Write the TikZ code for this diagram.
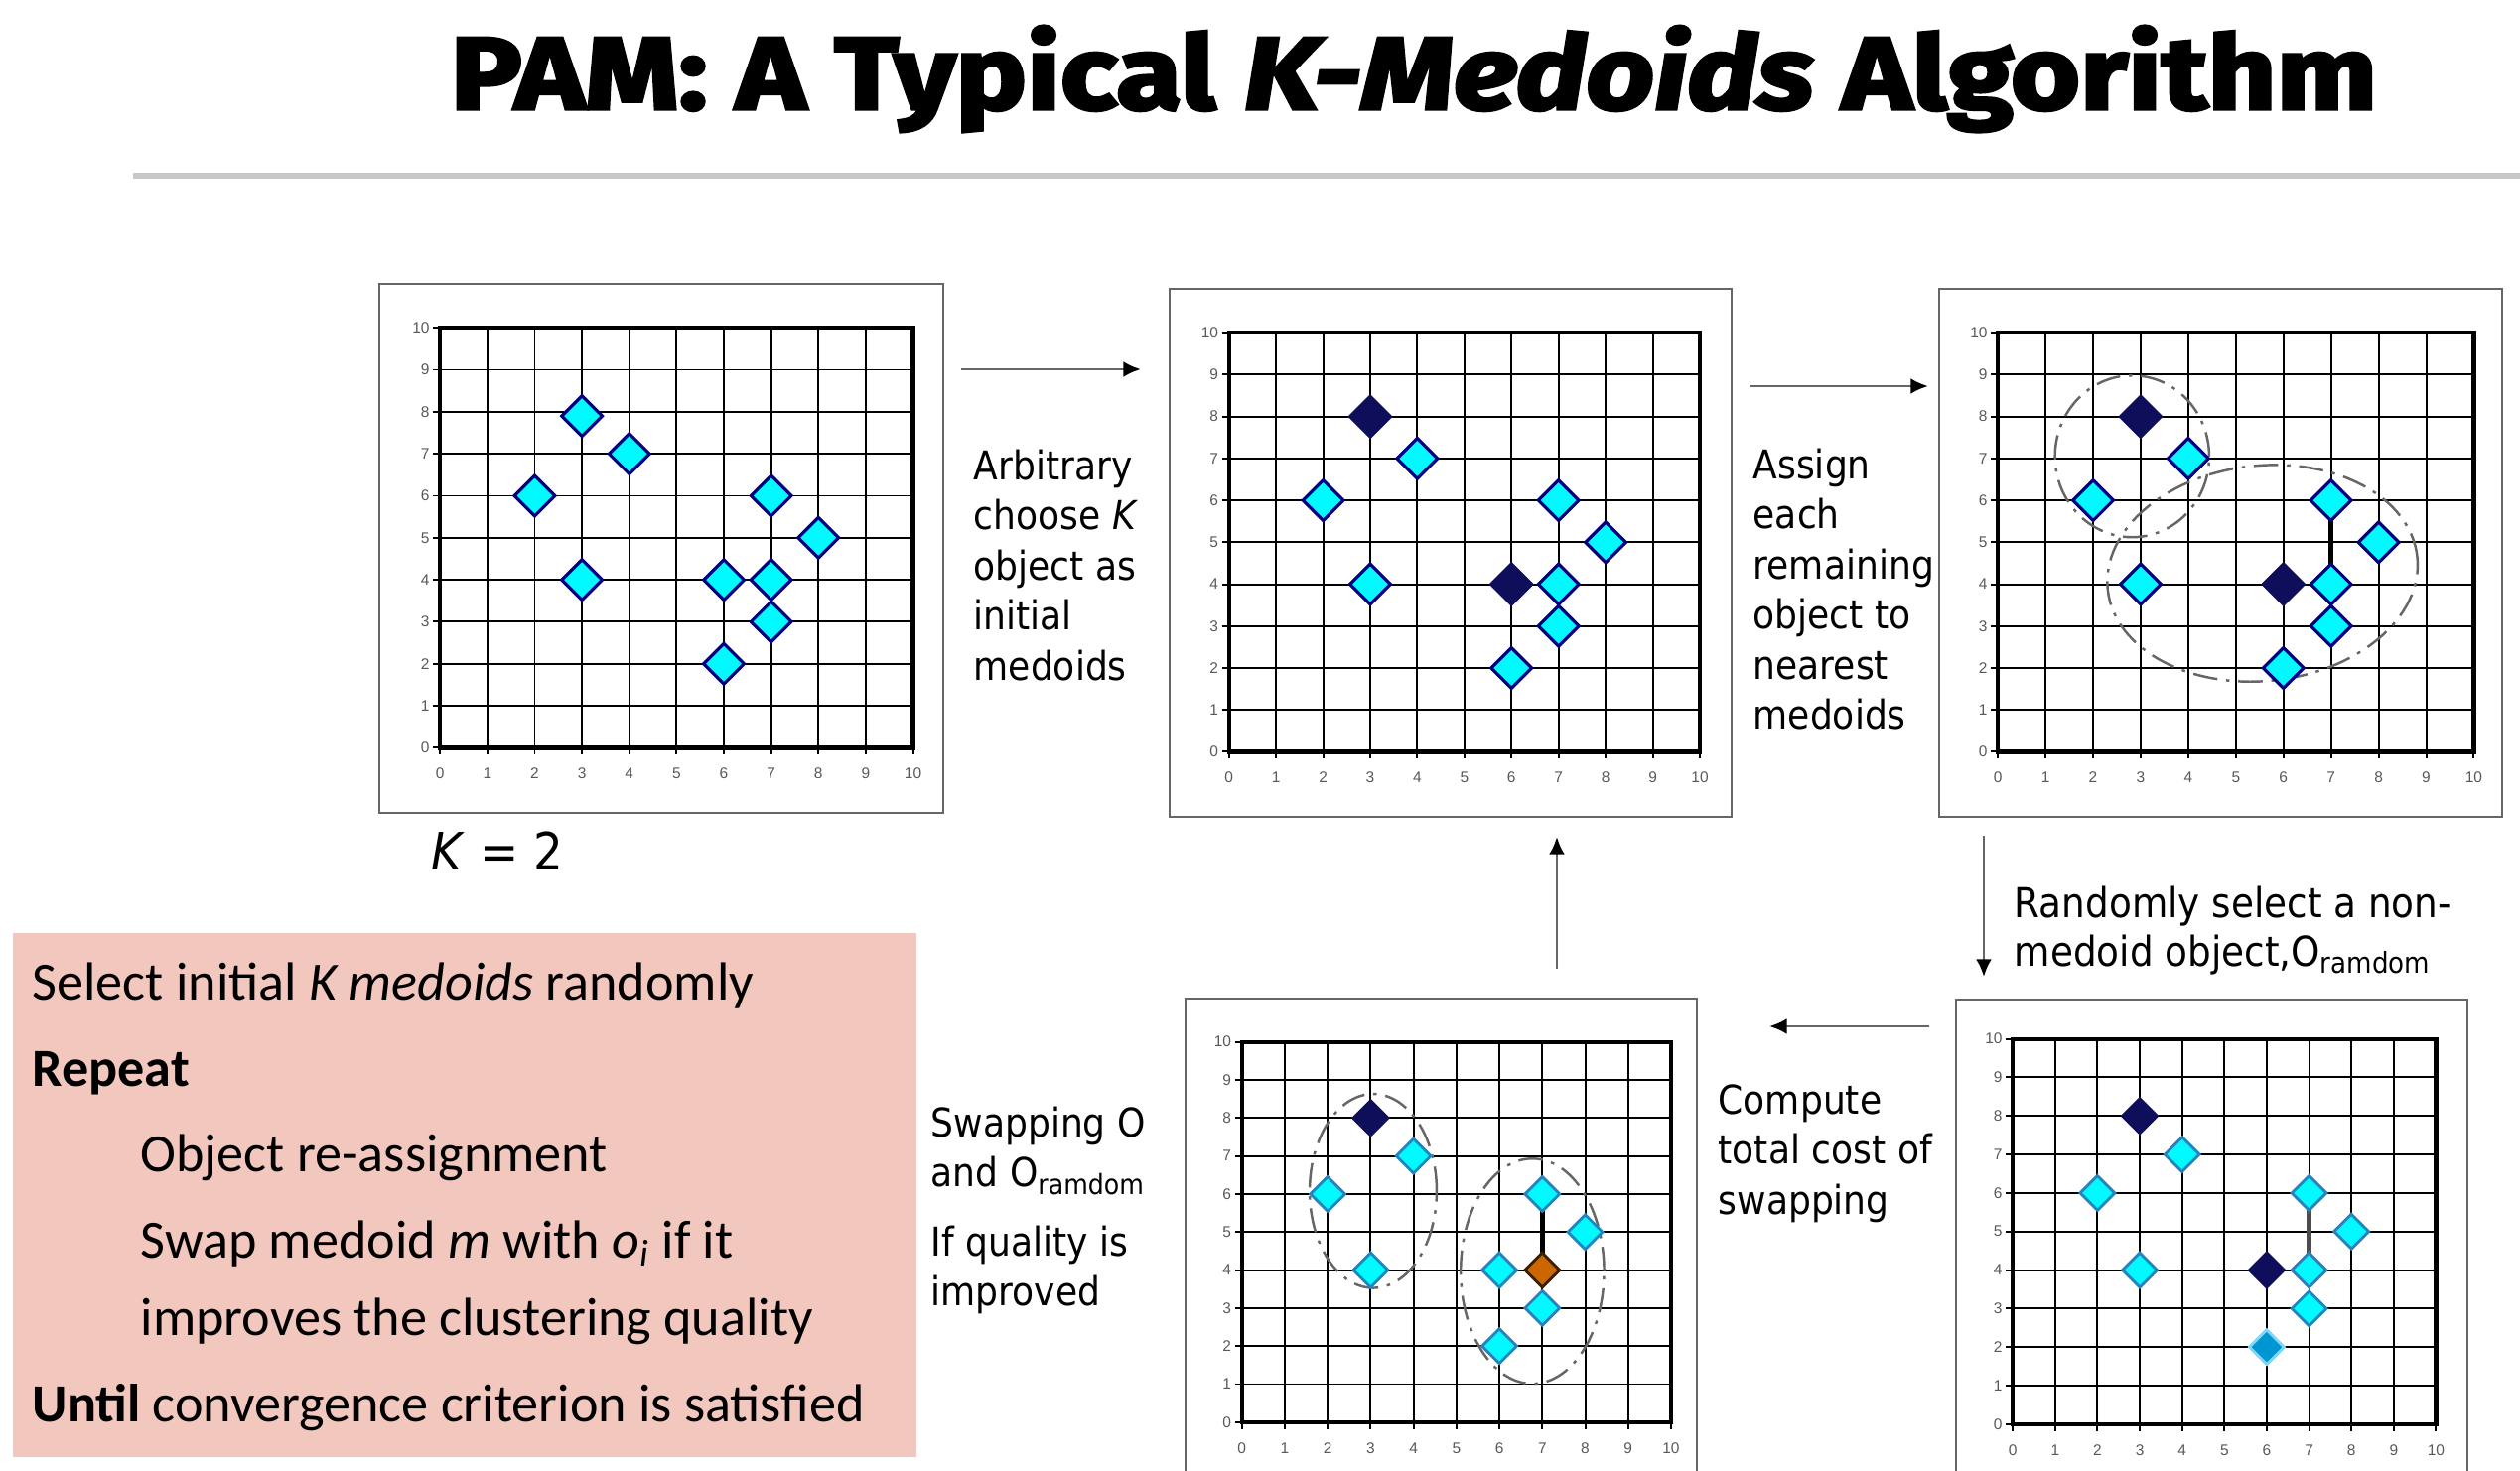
\documentclass[tikz,border=0pt]{standalone}
\usepackage{fontspec}
\usepackage{graphicx}
\usetikzlibrary{shapes.geometric,arrows.meta}
\newfontfamily\tahoma{DejaVu Sans}[FakeStretch=0.9]
\newfontfamily\calibri{Carlito}
\newfontfamily\titlefont{Fira Sans}[FakeBold=3]
\newfontfamily\arialf{Liberation Sans}
\definecolor{ptcyan}{RGB}{0,250,255}
\definecolor{ptedge}{RGB}{0,0,128}
\definecolor{ptedgeb}{RGB}{40,130,190}
\definecolor{medoidc}{RGB}{14,14,90}
\definecolor{pinkbg}{RGB}{242,200,190}
\definecolor{orangept}{RGB}{204,102,0}
\definecolor{bluept}{RGB}{0,150,210}
\definecolor{rulegray}{RGB}{200,200,200}
\newcommand{\lines}[1]{\begin{tabular}[t]{@{}l@{}}#1\end{tabular}}
\newcommand{\gridplot}[1]{%
  \foreach \t in {0,...,10}{
    \draw[gridl] (\t,-0.07cm) -- (\t,10);
    \draw[gridl] (-0.07cm,\t) -- (10,\t);
    \node[ticklbl,anchor=east] (#1y\t) at ([xshift=-0.1cm]0,\t) {\t};
    \node[ticklbl] (#1x\t) at ([yshift=-0.26cm]\t,0) {\t};
  }
  \draw[frameline] (0,0) rectangle (10,10);
}
\tikzset{
  panelbox/.style={draw=black!60, line width=0.6pt},
  gridl/.style={draw=black, line width=0.55pt},
  frameline/.style={draw=black, line width=1.2pt},
  ticklbl/.style={font=\arialf\fontsize{4.4}{5}\selectfont, text=black!65, inner sep=0},
  datapt/.style={diamond, aspect=1, inner sep=0, minimum width=0.42cm, minimum height=0.42cm, fill=ptcyan, draw=ptedge, line width=0.9pt},
  medpt/.style={datapt, fill=medoidc, draw=medoidc},
  datasm/.style={diamond, aspect=1, inner sep=0, minimum width=0.36cm, minimum height=0.36cm, fill=ptcyan, draw=ptedgeb, line width=0.8pt},
  medsm/.style={datasm, fill=medoidc, draw=medoidc},
  orangesm/.style={datasm, fill=orangept, draw=black!70!orangept},
  bluesm/.style={datasm, fill=bluept, draw=cyan!50},
  clusterell/.style={draw=black!60, line width=0.7pt, dash pattern=on 7pt off 2.5pt on 1pt off 2.5pt},
  thickseg/.style={draw=black, line width=1.3pt},
  flowarrow/.style={draw=black!60, line width=0.8pt, -{Latex[length=5pt,width=4.5pt,color=black]}},
  lbl/.style={anchor=base west, inner sep=0, font=\tahoma\fontsize{11.4}{14.37}\selectfont},
  pinktxt/.style={anchor=base west, inner sep=0, font=\calibri\fontsize{15.4}{18}\selectfont},
}
\begin{document}
\begin{tikzpicture}[x=0.01cm, y=-0.01cm]
\path[use as bounding box, fill=white] (0,0) rectangle (2538,1482);
% title
\node[anchor=base west, inner sep=0] (title) at (453,110)
  {\resizebox{19.39cm}{0.84cm}{\titlefont\bfseries PAM: A Typical \textit{K-Medoids} Algorithm}};
\coordinate (rl) at (134,177);
\coordinate (rr) at (2538,177);
\draw[rulegray, line width=1.7pt] (rl) -- (rr);

% ---------- panel 1
\draw[panelbox] (382,286) rectangle (950,819);
\begin{scope}[shift={(4.43cm,-7.53cm)}, x=0.476cm, y=0.423cm]
  \gridplot{P1}
  \foreach \px/\py [count=\k] in {2/6,3/7.9,4/7,3/4,6/4,7/6,8/5,7/4,7/3,6/2}
    \node[datapt] (P1p\k) at (\px,\py) {};
\end{scope}
\node[anchor=base west, inner sep=0, font=\tahoma\fontsize{14.8}{16}\selectfont] (k2) at (434,876) {\textit{K} = 2};

% ---------- panel 2
\draw[panelbox] (1178,291) rectangle (1744,823);
\begin{scope}[shift={(12.37cm,-7.57cm)}, x=0.474cm, y=0.422cm]
  \gridplot{P2}
  \foreach \px/\py [count=\k] in {2/6,4/7,3/4,7/6,8/5,7/4,7/3,6/2}
    \node[datapt] (P2p\k) at (\px,\py) {};
  \node[medpt] (P2m1) at (3,8) {};
  \node[medpt] (P2m2) at (6,4) {};
\end{scope}

% ---------- panel 3
\draw[panelbox] (1953,291) rectangle (2520,823);
\begin{scope}[shift={(20.11cm,-7.57cm)}, x=0.479cm, y=0.422cm]
  \gridplot{P3}
  \draw[thickseg] (7,4.4) -- (7,5.6);
  \draw[clusterell] (2.82,7.05) ellipse [x radius=1.62, y radius=1.93];
  \draw[clusterell, rotate around={6:(5.56,4.26)}] (5.56,4.26) ellipse [x radius=3.27, y radius=2.57];
  \foreach \px/\py [count=\k] in {2/6,4/7,3/4,7/6,8/5,7/4,7/3,6/2}
    \node[datapt] (P3p\k) at (\px,\py) {};
  \node[medpt] (P3m1) at (3,8) {};
  \node[medpt] (P3m2) at (6,4) {};
\end{scope}

% ---------- panel 4 (bottom middle)
\draw[panelbox] (1194,1482) -- (1194,1006) -- (1709,1006) -- (1709,1482);
\begin{scope}[shift={(12.50cm,-14.32cm)}, x=0.432cm, y=0.383cm]
  \gridplot{P4}
  \draw[thickseg] (7,4.4) -- (7,5.6);
  \draw[clusterell] (3.06,6.08) ellipse [x radius=1.48, y radius=2.55];
  \draw[clusterell] (6.77,3.97) ellipse [x radius=1.67, y radius=2.96];
  \foreach \px/\py [count=\k] in {2/6,4/7,3/4,7/6,8/5,6/4,7/3,6/2}
    \node[datasm] (P4p\k) at (\px,\py) {};
  \node[medsm] (P4m1) at (3,8) {};
  \node[orangesm] (P4o) at (7,4) {};
\end{scope}

% ---------- panel 5 (bottom right)
\draw[panelbox] (1970,1482) -- (1970,1007) -- (2485,1007) -- (2485,1482);
\begin{scope}[shift={(20.26cm,-14.34cm)}, x=0.426cm, y=0.388cm]
  \gridplot{P5}
  \draw[thickseg, draw=black!70] (7,4.4) -- (7,5.6);
  \foreach \px/\py [count=\k] in {2/6,4/7,3/4,7/6,8/5,7/4,7/3}
    \node[datasm] (P5p\k) at (\px,\py) {};
  \node[medsm] (P5m1) at (3,8) {};
  \node[medsm] (P5m2) at (6,4) {};
  \node[bluesm] (P5b) at (6,2) {};
\end{scope}

% ---------- arrows
\coordinate (a1s) at (968,372);  \coordinate (a1e) at (1149,372);
\coordinate (a2s) at (1763,389); \coordinate (a2e) at (1942,389);
\coordinate (a3s) at (1998,842); \coordinate (a3e) at (1998,984);
\coordinate (a4s) at (1943,1034); \coordinate (a4e) at (1782,1034);
\coordinate (a5s) at (1568,976); \coordinate (a5e) at (1568,843);
\draw[flowarrow] (a1s) -- (a1e);
\draw[flowarrow] (a2s) -- (a2e);
\draw[flowarrow] (a3s) -- (a3e);
\draw[flowarrow] (a4s) -- (a4e);
\draw[flowarrow] (a5s) -- (a5e);

% ---------- labels
\node[lbl] (l1) at (980,483) {\lines{Arbitrary\\choose \textit{K}\\object as\\initial\\medoids}};
\node[lbl] (l2) at (1765,482) {\lines{Assign\\each\\remaining\\object to\\nearest\\medoids}};
\node[lbl, font=\tahoma\fontsize{11.8}{14.0}\selectfont] (l3) at (2028,924) {\lines{Randomly select a non-\\medoid object,O\textsubscript{ramdom}}};
\node[lbl] (l4) at (1730,1122) {\lines{Compute\\total cost of\\swapping}};
\node[lbl] (l5) at (937,1145) {\lines{Swapping O\\and O\textsubscript{ramdom}\\[5.5pt]If quality is\\improved}};

% ---------- pink box
\fill[pinkbg] (13,940) rectangle (923,1468);
\node[pinktxt] (s1) at (32,1007) {Select initial \textit{K medoids} randomly};
\node[pinktxt] (s2) at (32,1094) {\textbf{Repeat}};
\node[pinktxt] (s3) at (141,1180) {Object re-assignment};
\node[pinktxt] (s4) at (141,1267) {Swap medoid \textit{m} with \textit{o\textsubscript{i}} if it};
\node[pinktxt] (s5) at (141,1345) {improves the clustering quality};
\node[pinktxt] (s6) at (32,1432) {\textbf{Until} convergence criterion is satisfied};
\end{tikzpicture}
\end{document}
